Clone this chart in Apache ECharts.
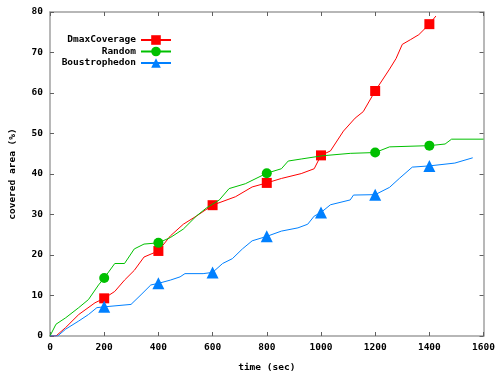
<!DOCTYPE html>
<html>
<head>
<meta charset="utf-8">
<script src="https://cdn.jsdelivr.net/npm/echarts@6/dist/echarts.min.js"></script>
<style>html,body{margin:0;padding:0;background:#fff}#c{width:498px;height:378px}</style>
</head>
<body>
<div id="c"></div>
<script>
var seriesNames = ['DmaxCoverage', 'Random', 'Boustrophedon'];
var xTicks = [0, 200, 400, 600, 800, 1000, 1200, 1400, 1600];
var yTicks = [0, 10, 20, 30, 40, 50, 60, 70, 80];

var dmaxT = [0, 22, 58, 106, 166, 200, 239, 275, 311, 347, 400, 444, 492, 540, 600, 685, 746, 800, 854, 927, 975, 1000, 1035, 1083, 1126, 1156, 1200, 1253, 1277, 1300, 1331, 1361, 1385, 1400, 1424];
var dmaxV = [0, 0, 2.1, 5.3, 8.2, 9.3, 11, 13.8, 16.2, 19.5, 21, 24.7, 27.6, 29.6, 32.3, 34.4, 36.8, 37.8, 38.9, 40.1, 41.3, 44.6, 45.7, 50.6, 53.8, 55.4, 60.5, 65.9, 68.5, 72, 73.2, 74.4, 76, 77, 79];
var dmaxMarks = [200, 400, 600, 800, 1000, 1200, 1400];

var randT = [0, 22, 58, 106, 142, 179, 200, 239, 275, 311, 347, 400, 444, 492, 540, 577, 625, 661, 721, 800, 854, 879, 927, 1005, 1108, 1200, 1253, 1400, 1458, 1482, 1600];
var randV = [0, 2.9, 4.5, 7, 9, 12.6, 14.3, 17.9, 17.9, 21.5, 22.7, 23, 24.3, 26.4, 29.6, 31.6, 33.6, 36.4, 37.6, 40.2, 41.3, 43.2, 43.7, 44.5, 45.1, 45.3, 46.7, 47, 47.4, 48.6, 48.6];
var randMarks = [200, 400, 800, 1200, 1400];

var boustT = [0, 28, 58, 106, 142, 173, 200, 299, 336, 372, 400, 444, 480, 498, 565, 600, 637, 673, 710, 746, 800, 854, 915, 951, 975, 1000, 1035, 1108, 1120, 1200, 1253, 1289, 1337, 1400, 1494, 1560];
var boustV = [0, 0, 1.7, 3.7, 5.3, 7.0, 7.2, 7.8, 10.2, 12.6, 13, 13.8, 14.6, 15.4, 15.4, 15.7, 17.9, 19.1, 21.5, 23.5, 24.6, 25.9, 26.7, 27.6, 29.6, 30.5, 32.4, 33.6, 34.8, 34.9, 36.7, 38.9, 41.7, 42, 42.7, 44];
var boustMarks = [200, 400, 600, 800, 1000, 1200, 1400];

var colors = ['#ff0000', '#00c000', '#0080ff'];
var symbols = ['rect', 'circle', 'triangle'];
var FONT = 'DejaVu Sans Mono';

function build(ts, vs, marks) {
  return ts.map(function (t, i) {
    var item = { value: [t, vs[i]] };
    if (marks.indexOf(t) < 0) item.symbol = 'none';
    return item;
  });
}

var allData = [build(dmaxT, dmaxV, dmaxMarks), build(randT, randV, randMarks), build(boustT, boustV, boustMarks)];

var chart = echarts.init(document.getElementById('c'), null, { renderer: 'canvas' });

var axisCommon = {
  axisLine: { show: true, onZero: false, lineStyle: { color: '#a0a0a0', width: 1.5 } },
  axisTick: { show: true, inside: true, length: 4, lineStyle: { color: '#606060', width: 1 } },
  splitLine: { show: false }
};
var labelStyle = { fontFamily: FONT, fontWeight: 'bold', fontSize: 9.5, color: '#000' };

var legends = seriesNames.map(function (n, i) {
  return {
    data: [n],
    orient: 'vertical',
    align: 'right',
    right: 326,
    top: 35 + i * 11.5,
    itemWidth: 30,
    itemHeight: 12,
    itemGap: 2,
    padding: 0,
    textStyle: { fontFamily: FONT, fontWeight: 'bold', fontSize: 9.5, color: '#000', padding: [0, 0, 0, 0] },
    selectedMode: false
  };
});

chart.setOption({
  animation: false,
  backgroundColor: '#fff',
  grid: { left: 44, right: 12, top: 12, bottom: 36, show: false },
  legend: legends,
  xAxis: [
    Object.assign({}, axisCommon, {
      type: 'value', min: 0, max: 1600, interval: 200, position: 'bottom',
      name: 'time (sec)', nameLocation: 'middle', nameGap: 27,
      nameTextStyle: labelStyle,
      axisLabel: Object.assign({ margin: 7, formatter: function (v) { return xTicks.indexOf(v) >= 0 ? String(v) : ''; } }, labelStyle)
    }),
    Object.assign({}, axisCommon, {
      type: 'value', min: 0, max: 1600, interval: 200, position: 'top',
      axisLabel: { show: false }
    })
  ],
  yAxis: [
    Object.assign({}, axisCommon, {
      type: 'value', min: 0, max: 80, interval: 10, position: 'left',
      name: 'covered area (%)', nameLocation: 'middle', nameGap: 32,
      nameTextStyle: labelStyle,
      axisLabel: Object.assign({ margin: 7, formatter: function (v) { return yTicks.indexOf(v) >= 0 ? String(v) : ''; } }, labelStyle)
    }),
    Object.assign({}, axisCommon, {
      type: 'value', min: 0, max: 80, interval: 10, position: 'right',
      axisLabel: { show: false }
    })
  ],
  series: seriesNames.map(function (n, i) {
    return {
      name: n,
      type: 'line',
      xAxisIndex: 0,
      yAxisIndex: 0,
      data: allData[i],
      symbol: symbols[i],
      symbolSize: i === 2 ? 12 : 10,
      showSymbol: true,
      showAllSymbol: true,
      color: colors[i],
      lineStyle: { color: colors[i], width: 1 },
      itemStyle: { color: colors[i] },
      z: 2 + i
    };
  })
});
</script>
</body>
</html>
